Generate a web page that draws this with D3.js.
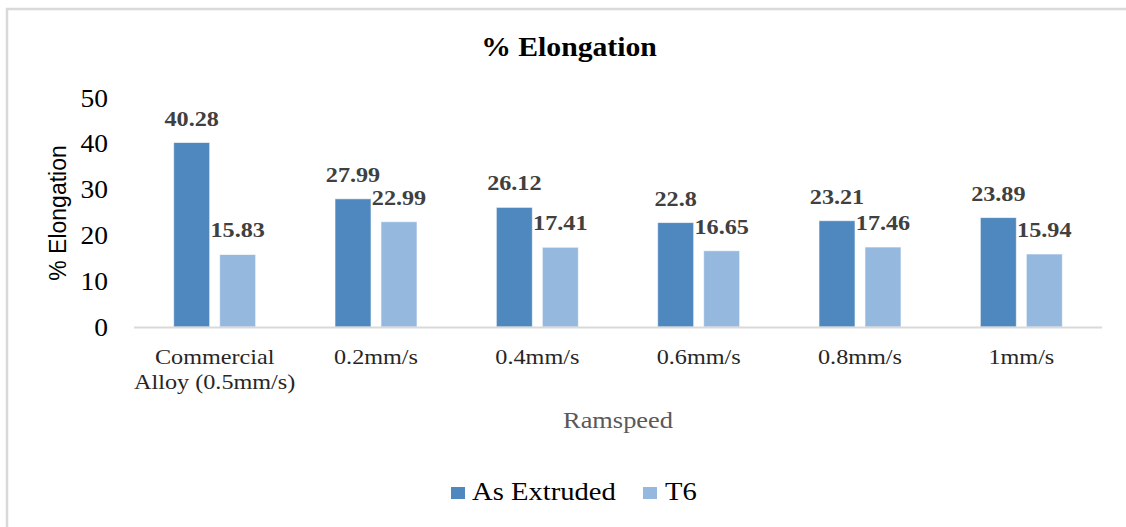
<!DOCTYPE html>
<html>
<head>
<meta charset="utf-8">
<script src="https://cdn.jsdelivr.net/npm/d3@7"></script>
<style>
  html, body { margin: 0; padding: 0; background: #fff; }
  svg { display: block; }
  .serif { font-family: "Liberation Serif", "Times New Roman", serif; }
</style>
</head>
<body>
<svg id="chart" width="1126" height="527"></svg>
<script>
// Elongation data per ram speed
const categories = [["Commercial", "Alloy (0.5mm/s)"], ["0.2mm/s"], ["0.4mm/s"], ["0.6mm/s"], ["0.8mm/s"], ["1mm/s"]];
const seriesNames = ["As Extruded", "T6"];
const asExtruded = [40.28, 27.99, 26.12, 22.8, 23.21, 23.89];
const t6 = [15.83, 22.99, 17.41, 16.65, 17.46, 15.94];
const yTicks = [0, 10, 20, 30, 40, 50];
const seriesColors = ["#4f88be", "#95b8df"];

const svg = d3.select("#chart");
const W = 1126, H = 527;
const SX = 1.1; // text is drawn slightly wide

// frame
svg.append("rect").attr("x", 7).attr("y", 9).attr("width", W + 20).attr("height", H + 20)
  .attr("fill", "#fff").attr("stroke", "#d9d9d9").attr("stroke-width", 2.5);

const plot = { left: 134, right: 1102, top: 98, bottom: 327 };

const catKeys = categories.map(c => c.join(" "));
const x0 = d3.scaleBand().domain(catKeys).range([plot.left, plot.right]).padding(0);
const groupW = 82;
const x1 = d3.scaleBand().domain(seriesNames)
  .range([(x0.bandwidth() - groupW) / 2, (x0.bandwidth() + groupW) / 2])
  .paddingInner(0.217).paddingOuter(0);
const y = d3.scaleLinear().domain([0, 50]).range([plot.bottom, plot.top]);

function wideText(parent, x, yy, str, opts) {
  const g = parent.append("g").attr("transform", `translate(${x},${yy}) scale(${SX},1)`);
  const t = g.append("text").attr("class", "serif").text(str)
    .attr("text-anchor", opts.anchor || "middle")
    .attr("font-size", opts.size)
    .attr("fill", opts.fill || "#000");
  if (opts.bold) t.attr("font-weight", "bold");
  if (opts.baseline) t.attr("dominant-baseline", opts.baseline);
  return t;
}

// title
wideText(svg, 569, 56, "% Elongation", { size: 27, bold: true, fill: "#000" });

// y axis tick labels via d3 axis
const yAxis = d3.axisLeft(y).tickValues(yTicks).tickSize(0).tickPadding(0);
const yg = svg.append("g").attr("transform", `translate(108,0)`).call(yAxis);
yg.select(".domain").remove();
yg.selectAll(".tick text").remove();
yg.selectAll(".tick").each(function (d) {
  wideText(d3.select(this), 0, 0, String(d), { size: 25, anchor: "end", fill: "#000", baseline: "central" });
});

// y axis title
svg.append("text")
  .attr("transform", `translate(66,213) rotate(-90)`)
  .attr("text-anchor", "middle")
  .attr("font-family", "'Liberation Sans', Arial, sans-serif")
  .attr("font-size", 23)
  .attr("fill", "#000")
  .text("% Elongation");

// bars
const rows = catKeys.map((k, i) => ({ key: k, values: [asExtruded[i], t6[i]] }));
const groups = svg.append("g").selectAll("g").data(rows).join("g")
  .attr("transform", d => `translate(${x0(d.key)},0)`);

groups.selectAll("rect").data(d => d.values.map((v, j) => ({ s: seriesNames[j], v, j })))
  .join("rect")
  .attr("x", d => x1(d.s))
  .attr("y", d => y(d.v))
  .attr("width", x1.bandwidth())
  .attr("height", d => y(0) - y(d.v))
  .attr("fill", d => seriesColors[d.j])
  .attr("stroke", "#fff").attr("stroke-opacity", 0.6).attr("stroke-width", 1);

// value labels
groups.each(function (d) {
  const g = d3.select(this);
  d.values.forEach((v, j) => {
    wideText(g, x1(seriesNames[j]) + x1.bandwidth() / 2, y(v) - 17, String(v),
      { size: 22, bold: true, fill: "#404040" });
  });
});

// x axis line
svg.append("line")
  .attr("x1", plot.left).attr("x2", plot.right)
  .attr("y1", y(0) + 0.5).attr("y2", y(0) + 0.5)
  .attr("stroke", "#d9d9d9").attr("stroke-width", 2);

// category labels
categories.forEach((lines, i) => {
  const cx = x0(catKeys[i]) + x0.bandwidth() / 2;
  lines.forEach((ln, k) => {
    wideText(svg, cx, 364 + k * 25, ln, { size: 22, fill: "#262626" });
  });
});

// x axis title
wideText(svg, 618, 428, "Ramspeed", { size: 24, fill: "#595959" });

// legend
const legendPos = [{ sq: 451, tx: 472 }, { sq: 643, tx: 665 }];
seriesNames.forEach((name, j) => {
  svg.append("rect").attr("x", legendPos[j].sq).attr("y", 487)
    .attr("width", 14).attr("height", 12).attr("fill", seriesColors[j]);
  wideText(svg, legendPos[j].tx, 500, name, { size: 26, anchor: "start", fill: "#000" });
});
</script>
</body>
</html>
